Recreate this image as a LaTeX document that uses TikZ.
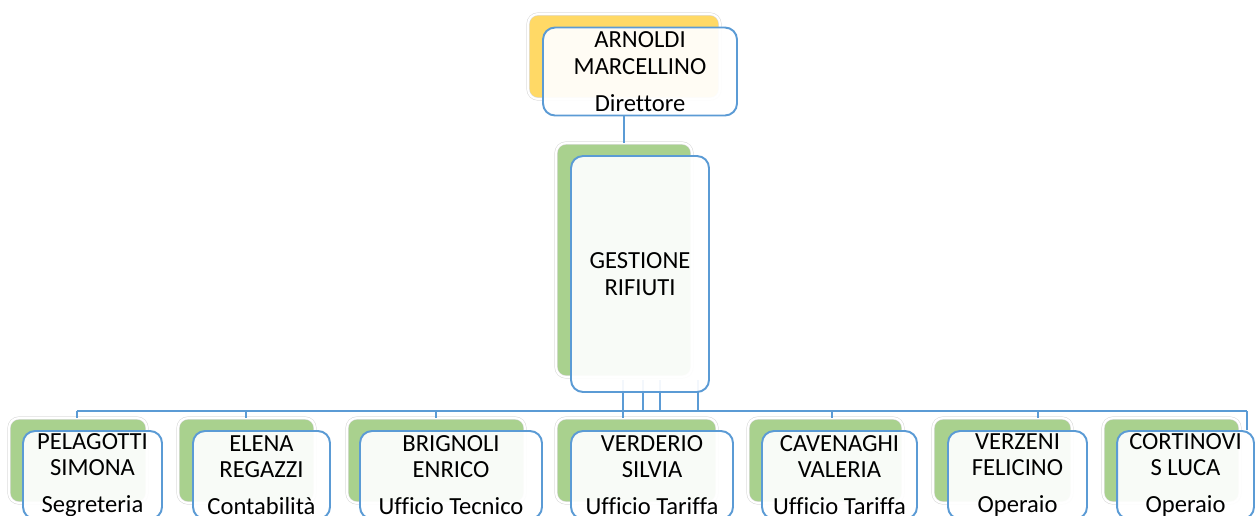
\documentclass[tikz,border=0pt]{standalone}
\usepackage{fontspec}
\setmainfont{Carlito}[Ligatures={NoCommon}]
\definecolor{boxblue}{HTML}{5B9BD5}
\definecolor{staffgreen}{HTML}{A9D18E}
\definecolor{headyellow}{HTML}{FFD966}

\begin{document}
\begin{tikzpicture}[x=0.02cm,y=-0.02cm,
    every node/.style={font=\fontsize{14}{15}\selectfont},
    backbox/.style={rectangle,rounded corners=0.2cm,draw=black!15,double=white,double distance=1.2pt,line width=0.3pt,inner sep=0pt,minimum height=1.7cm},
    frontbox/.style={rectangle,rounded corners=0.24cm,draw=boxblue,line width=1.1pt,fill=white,fill opacity=0.93,text opacity=1,align=center,inner sep=0pt,minimum height=1.76cm},
    link/.style={draw=boxblue,line width=1.1pt}]
    \useasboundingbox (0,0) rectangle (1256,515);
    \fill[white] (0,0) rectangle (1256,515);
    \clip (0,0) rectangle (1256,515);
    % back boxes
    \node[backbox,fill=headyellow,minimum width=3.84cm] (dirback) at (624,56.5) {};
    \node[backbox,fill=staffgreen,minimum width=2.72cm,minimum height=4.68cm] (gesback) at (624,260) {};
    \foreach \n/\x/\w in {b1/78/2.76,b2/246.5/2.74,b3/436/3.56,b4/636.5/3.22,b5/825.5/3.1,b6/1002.5/2.78,b7/1171.5/2.74}
        \node[backbox,fill=staffgreen,minimum width=\w cm] (\n) at (\x,460.5) {};
    % bus
    \coordinate (busL) at (77,411);
    \coordinate (busR) at (1247,411);
    \draw[link] (busL) -- (busR);
    \foreach \x/\n in {77/b1,246/b2,436/b3,832/b5,1038/b6}
        \draw[link] (\x,411) -- (\x,411 |- \n.north);
    \foreach \x in {643,660,698}
        \draw[link] (\x,380) -- (\x,411);
    \draw[link] (623,380) -- (623,411 |- b4.north);
    % front boxes
    \node[frontbox,minimum width=3.88cm] (dir) at (640,71.5) {ARNOLDI\\MARCELLINO\\[6pt]Direttore};
    \node[frontbox,minimum width=2.76cm,minimum height=4.72cm] (ges) at (640,274) {GESTIONE\\RIFIUTI};
    \node[frontbox,minimum width=2.78cm] (p1) at (92.5,475) {PELAGOTTI\\SIMONA\\[6pt]Segreteria};
    \node[frontbox,minimum width=2.74cm] (p2) at (261.5,475) {ELENA\\REGAZZI\\[6pt]Contabilità};
    \node[frontbox,minimum width=3.64cm] (p3) at (451,475) {BRIGNOLI\\ENRICO\\[6pt]Ufficio Tecnico};
    \node[frontbox,minimum width=3.24cm] (p4) at (652,475) {VERDERIO\\SILVIA\\[6pt]Ufficio Tariffa};
    \node[frontbox,minimum width=3.1cm] (p5) at (839.5,475) {CAVENAGHI\\VALERIA\\[6pt]Ufficio Tariffa};
    \node[frontbox,minimum width=2.78cm] (p6) at (1017.5,475) {VERZENI\\FELICINO\\[6pt]Operaio};
    \node[frontbox,minimum width=2.74cm] (p7) at (1185.5,475) {CORTINOVI\\S LUCA\\[6pt]Operaio};
    \draw[link] (busR) -- (busR |- p7.north);
    \draw[link] (gesback.north |- dir.south) -- (gesback.north);
\end{tikzpicture}
\end{document}
